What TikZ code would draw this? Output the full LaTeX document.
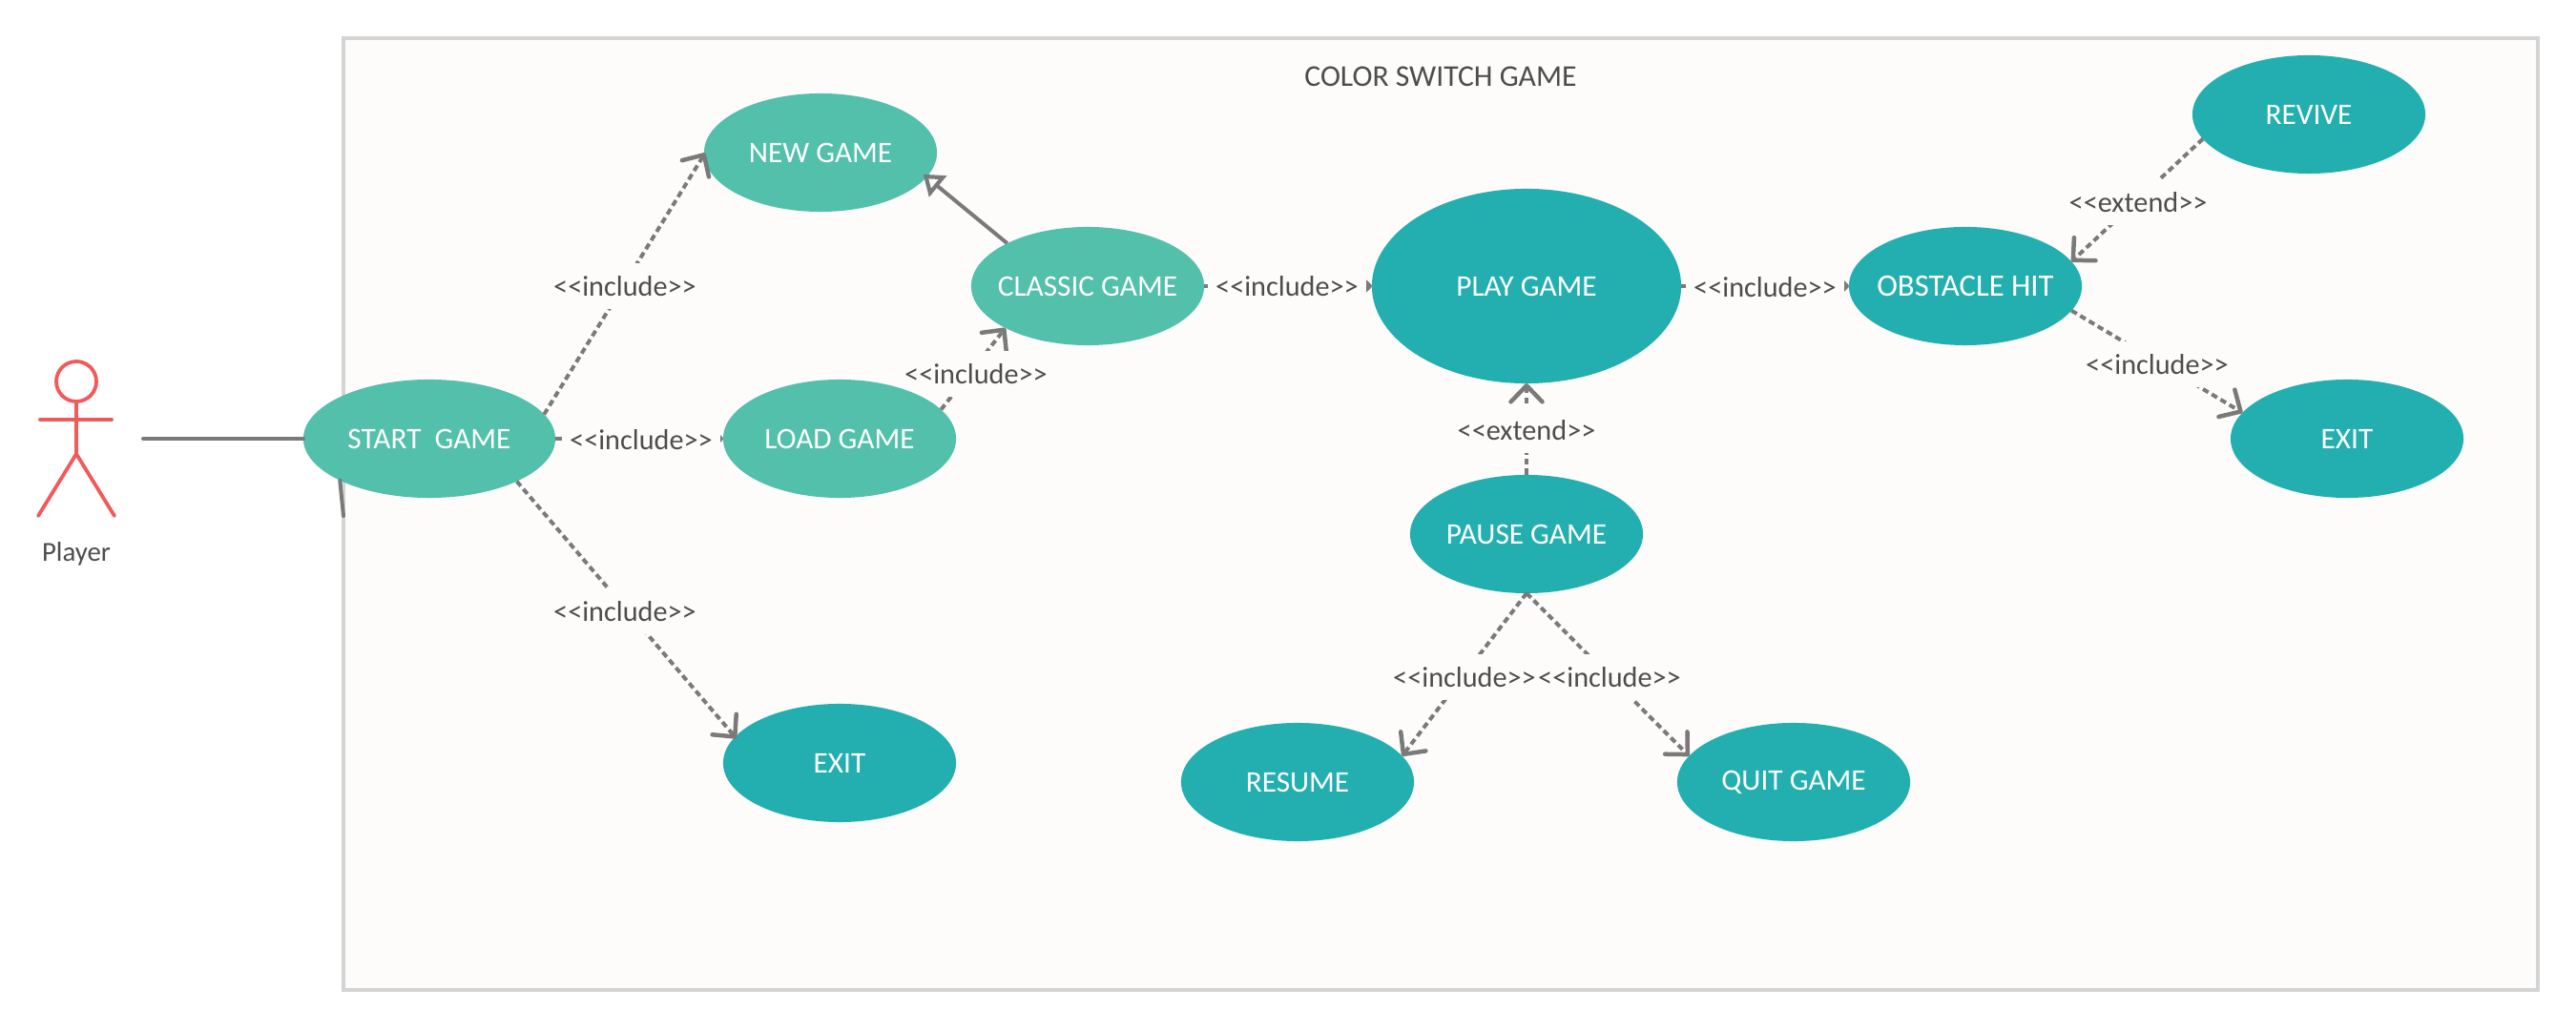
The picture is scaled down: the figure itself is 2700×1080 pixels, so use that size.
\documentclass[tikz,border=0pt]{standalone}
\usepackage{fontspec}
\usetikzlibrary{arrows.meta,shapes.geometric}
\newfontfamily\latofam{Carlito}
\pgfdeclarelayer{under}
\pgfsetlayers{under,main}
\definecolor{framebg}{HTML}{FDFCFA}
\definecolor{framecol}{HTML}{D4D4D4}
\definecolor{lightteal}{HTML}{52C0AA}
\definecolor{darkteal}{HTML}{23AFAF}
\definecolor{linecol}{HTML}{7A7A7A}
\definecolor{txtcol}{HTML}{4D4D4D}
\definecolor{actorcol}{HTML}{F25A5A}
\newcommand{\et}[1]{\raisebox{-0.4pt}{\makebox[0pt][c]{#1}}}
\tikzset{
  uc/.style={ellipse,inner sep=0pt,outer sep=0pt,minimum width=2.44cm,minimum height=1.24cm,text=white,
    font=\latofam\fontsize{8.9pt}{10pt}\selectfont},
  ucl/.style={uc,fill=lightteal},
  ucd/.style={uc,fill=darkteal},
  lab/.style={fill=framebg,inner xsep=0.08cm,inner ysep=0pt,minimum height=0.48cm,text=txtcol,
    font=\latofam\fontsize{8.6pt}{10pt}\selectfont},
  plain/.style={text=txtcol,inner sep=0pt,font=\latofam\fontsize{#1}{10pt}\selectfont},
  conn/.style={draw=linecol,line width=0.04cm,line cap=butt},
  dep/.style={conn,dash pattern=on 0.065cm off 0.042cm,
    -{Straight Barb[length=0.17cm,width=0.33cm,line width=0.045cm,round]}},
  gen/.style={conn,-{Triangle[open,length=0.2cm,width=0.28cm,line width=0.042cm,fill=framebg]}},
  actorline/.style={draw=actorcol,line width=0.038cm,line cap=round}
}
\begin{document}
\begin{tikzpicture}[x=0.01cm,y=-0.01cm]
\useasboundingbox (0,0) rectangle (2700,1080);
\begin{pgfonlayer}{under}
\fill[white] (0,0) rectangle (2700,1080);
\draw[framecol,fill=framebg,line width=0.036cm] (360,40) rectangle (2660,1038);
\end{pgfonlayer}
\node[plain=9pt] (title) at (1510,80) {COLOR SWITCH GAME};
% actor
\draw[actorline] (80,400) ellipse [x radius=21,y radius=21];
\draw[actorline] (80,421) -- (80,476);
\draw[actorline] (42,440) -- (117,440);
\draw[actorline] (40,541) -- (80,476) -- (120,541);
\node[plain=8.2pt] (player) at (80,581) {Player};
\coordinate (actorhand) at (150,460);
\coordinate (strayend) at (360,541);
% use cases
\node[ucl,minimum width=2.64cm] (start) at (450,460) {\et{START\ \ GAME}};
\node[ucl] (newg) at (860,160) {\et{NEW GAME}};
\node[ucl] (load) at (880,460) {\et{LOAD GAME}};
\node[ucd] (exita) at (880,800) {\et{EXIT}};
\node[ucl] (classic) at (1140,300) {\et{CLASSIC GAME}};
\node[ucd,minimum width=3.24cm,minimum height=2.04cm] (play) at (1600,300) {\et{PLAY GAME}};
\node[ucd,font=\latofam\fontsize{9.3pt}{10pt}\selectfont] (obst) at (2060,300) {\et{OBSTACLE HIT}};
\node[ucd] (revive) at (2420,120) {\et{REVIVE}};
\node[ucd] (exitb) at (2460,460) {\et{EXIT}};
\node[ucd] (pause) at (1600,560) {\et{PAUSE GAME}};
\node[ucd] (resume) at (1360,820) {\et{RESUME}};
\node[ucd] (quit) at (1880,820) {\et{QUIT GAME}};
% connectors
\draw[conn,line cap=round] (actorhand) -- (start.west);
\draw[conn,line cap=round] (start.205.8) -- (strayend);
\draw[dep,shorten >=-0.02cm] (start.12.4) -- (newg.181);
\draw[dep] (start.east) -- (load.west);
\draw[dep,shorten >=-0.02cm] (start.-26) -- (exita.166);
\begin{pgfonlayer}{under}
\draw[dep] (load.16) -- (classic.207);
\node[lab] (l4) at (1023,392) {<<include>>};
\end{pgfonlayer}
\draw[gen,shorten >=-0.045cm] (classic.152) -- (newg.-13);
\draw[dep] (classic.east) -- (play.west);
\draw[dep] (play.east) -- (obst.west);
\draw[dep] (pause.north) -- (play.south);
\draw[dep] (revive.193) -- (obst.13.7);
\draw[dep] (obst.-13) -- (exitb.166);
\draw[dep] (pause.south) -- (resume.14);
\draw[dep] (pause.south) -- (quit.166);
% connector labels
\node[lab] (l1) at (655,300) {<<include>>};
\node[lab] (l2) at (672,461) {<<include>>};
\node[lab] (l3) at (655,641) {<<include>>};
\node[lab] (l5) at (1349,300) {<<include>>};
\node[lab] (l6) at (1850,301) {<<include>>};
\node[lab] (l7) at (1600,451) {<<extend>>};
\node[lab] (l8) at (2241,212) {<<extend>>};
\node[lab] (l9) at (2261,382) {<<include>>};
\node[lab,inner xsep=0.02cm] (l10) at (1535,710) {<<include>>};
\node[lab,inner xsep=0.02cm] (l11) at (1687,710) {<<include>>};
\end{tikzpicture}
\end{document}
